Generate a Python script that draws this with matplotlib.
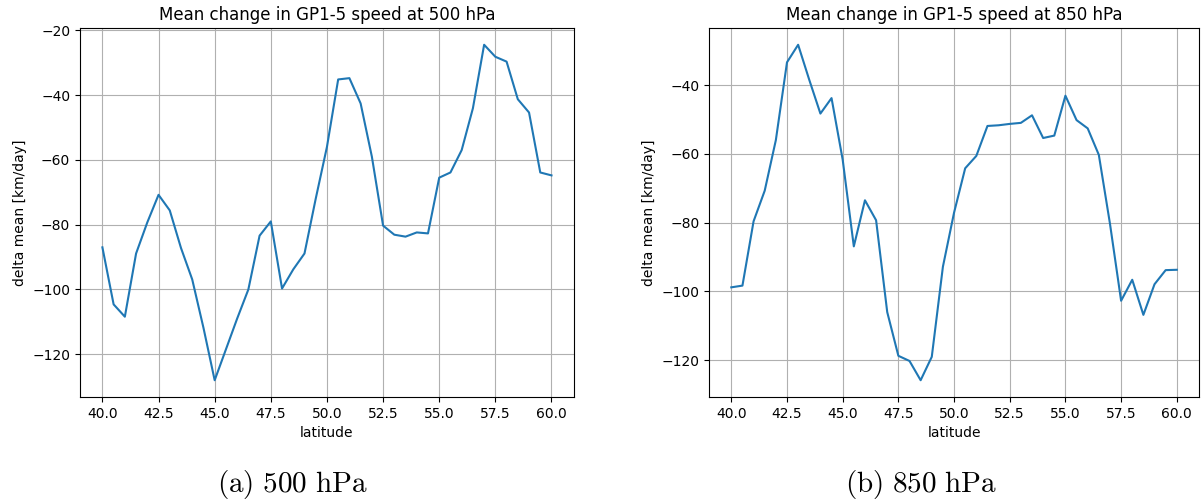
import numpy as np
import matplotlib
matplotlib.use("Agg")
import matplotlib.pyplot as plt

plt.rcParams['mathtext.fontset'] = 'cm'

latitude = [40.0 + 0.5 * i for i in range(41)]

delta_500 = [-87.0, -104.6, -108.4, -88.9, -79.3, -70.8, -75.6, -87.2, -96.9, -111.8,
             -128.0, -118.5, -109.0, -100.0, -83.4, -79.0, -99.7, -93.8, -88.9, -72.0,
             -56.0, -35.2, -34.8, -42.6, -59.0, -80.3, -83.1, -83.7, -82.4, -82.7,
             -65.5, -63.9, -57.0, -44.1, -24.5, -28.2, -29.7, -41.3, -45.4, -63.9,
             -64.8]

delta_850 = [-98.8, -98.3, -79.6, -70.7, -56.0, -33.4, -28.3, -38.5, -48.3, -43.8,
             -61.7, -86.9, -73.5, -79.3, -106.0, -118.7, -120.2, -125.8, -119.0, -92.8,
             -77.1, -64.2, -60.6, -51.9, -51.7, -51.3, -51.0, -48.8, -55.4, -54.7,
             -43.1, -50.2, -52.6, -60.3, -80.3, -102.7, -96.6, -106.8, -97.9, -93.8,
             -93.7]

titles = ["Mean change in GP1-5 speed at 500 hPa", "Mean change in GP1-5 speed at 850 hPa"]
captions = [r"$\mathrm{(a)\ 500\ hPa}$", r"$\mathrm{(b)\ 850\ hPa}$"]
caption_x = [0.243, 0.765]
xlabel = "latitude"
ylabel = "delta mean [km/day]"

fig = plt.figure(figsize=(12.04, 4.99), dpi=100)
ax1 = fig.add_axes([0.0664, 0.2044, 0.4103, 0.7395])
ax2 = fig.add_axes([0.5889, 0.2044, 0.4070, 0.7395])

for ax, data, title, cap, cx in [(ax1, delta_500, titles[0], captions[0], caption_x[0]),
                                 (ax2, delta_850, titles[1], captions[1], caption_x[1])]:
    ax.plot(latitude, data, color='#1f77b4', linewidth=1.5)
    ax.set_title(title, fontsize=12)
    ax.set_xlabel(xlabel, fontsize=10)
    ax.set_ylabel(ylabel, fontsize=10)
    ax.grid(True)
    ax.set_xticks(np.arange(40, 60.01, 2.5))
    fig.text(cx, 1 - 492.3 / 499, cap, ha='center', va='baseline', fontsize=21)

fig.savefig("out.png", dpi=100)
